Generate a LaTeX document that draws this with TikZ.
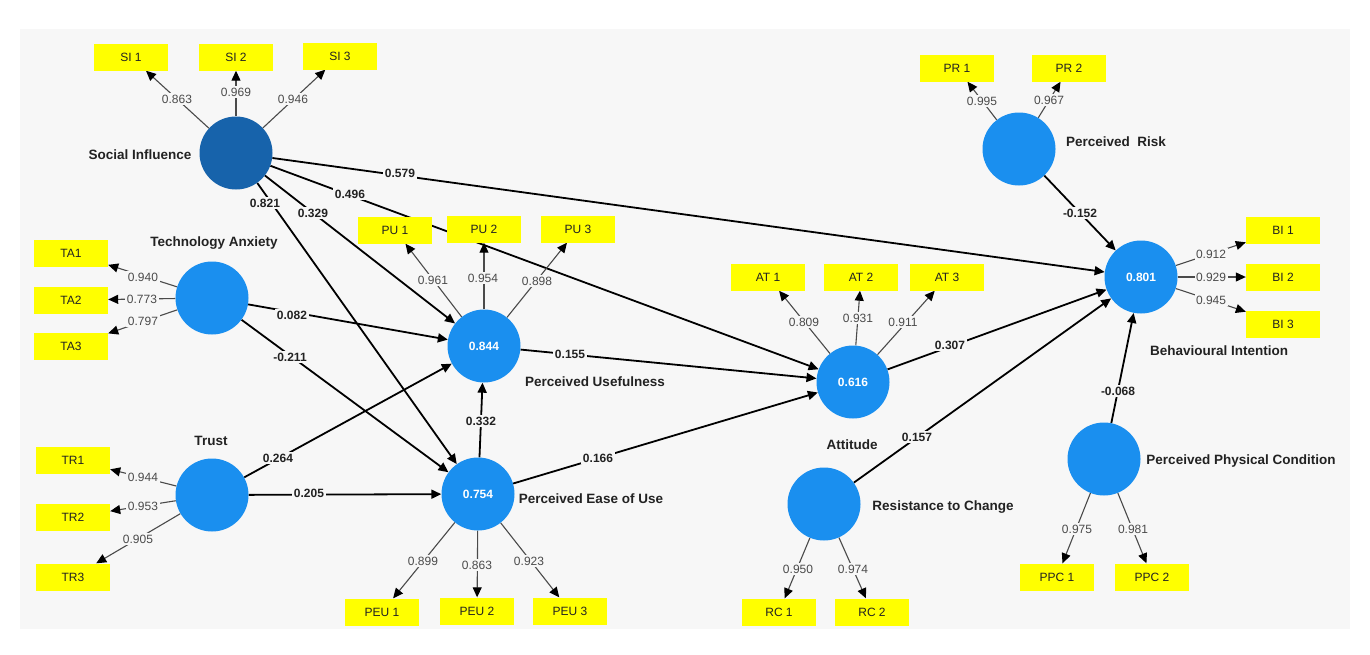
\documentclass[tikz,border=0pt]{standalone}
\usepackage{fontspec}
\setmainfont{Liberation Sans}
\usetikzlibrary{arrows.meta}
\definecolor{bg}{HTML}{F7F7F7}
\definecolor{lv}{HTML}{1A8FEF}
\definecolor{lvdark}{HTML}{1763AB}
\definecolor{ind}{HTML}{FFFF00}
\definecolor{ldcol}{HTML}{4A4A4A}
\definecolor{txt}{HTML}{222222}
\pgfdeclarelayer{bgl}
\pgfdeclarelayer{edges}
\pgfsetlayers{bgl,edges,main}
\begin{document}
\begin{tikzpicture}[x=1pt,y=-1pt,
 lvnode/.style={circle, fill=lv, minimum size=73pt, inner sep=0pt, text=white, font=\fontsize{12}{14}\selectfont\bfseries},
 indbox/.style={rectangle, fill=ind, minimum width=74pt, minimum height=27pt, inner sep=0pt, font=\fontsize{12}{14}\selectfont, text=txt},
 lvlabel/.style={font=\fontsize{13.5}{16}\selectfont\bfseries, text=txt, inner sep=0pt},
 strpath/.style={line width=1.8pt, draw=black, -{Triangle[length=10pt,width=9pt]}},
 ldpath/.style={line width=1.1pt, draw=ldcol, -{Triangle[length=10pt,width=9pt,color=black]}},
 coef/.style={fill=bg, inner sep=1.5pt, font=\fontsize{12}{14}\selectfont\bfseries, text=txt},
 ld/.style={fill=bg, inner sep=1.5pt, font=\fontsize{12}{14}\selectfont, text=ldcol},
]
\useasboundingbox (0,0) rectangle (1370,654);
\begin{pgfonlayer}{bgl}
\fill[white] (0,0) rectangle (1370,654);
\fill[bg] (20,29) rectangle (1350,629);
\end{pgfonlayer}

% latent variables
\node[lvnode, fill=lvdark] (SI) at (236,153) {};
\node[lvnode] (TA) at (212,298) {};
\node[lvnode] (TR) at (212,495) {};
\node[lvnode] (PU) at (484,346) {0.844};
\node[lvnode] (PEU) at (478,494) {0.754};
\node[lvnode] (AT) at (853,382) {0.616};
\node[lvnode] (PR) at (1019,149) {};
\node[lvnode] (BI) at (1141,277) {0.801};
\node[lvnode] (RC) at (824,504) {};
\node[lvnode] (PPC) at (1104,459) {};

% indicators
\node[indbox] (si1) at (131,57) {SI 1};
\node[indbox] (si2) at (236,57) {SI 2};
\node[indbox] (si3) at (340,56) {SI 3};
\node[indbox] (ta1) at (71,253) {TA1};
\node[indbox] (ta2) at (71,300) {TA2};
\node[indbox] (ta3) at (71,346) {TA3};
\node[indbox] (tr1) at (73,460) {TR1};
\node[indbox] (tr2) at (73,517) {TR2};
\node[indbox] (tr3) at (73,577) {TR3};
\node[indbox] (pu1) at (395,230) {PU 1};
\node[indbox] (pu2) at (484,229) {PU 2};
\node[indbox] (pu3) at (578,229) {PU 3};
\node[indbox] (peu1) at (382,612) {PEU 1};
\node[indbox] (peu2) at (477,611) {PEU 2};
\node[indbox] (peu3) at (570,611) {PEU 3};
\node[indbox] (at1) at (768,277) {AT 1};
\node[indbox] (at2) at (861,277) {AT 2};
\node[indbox] (at3) at (947,277) {AT 3};
\node[indbox] (pr1) at (957,68) {PR 1};
\node[indbox] (pr2) at (1069,68) {PR 2};
\node[indbox] (bi1) at (1283,230) {BI 1};
\node[indbox] (bi2) at (1283,277) {BI 2};
\node[indbox] (bi3) at (1283,324) {BI 3};
\node[indbox] (rc1) at (779,612) {RC 1};
\node[indbox] (rc2) at (872,612) {RC 2};
\node[indbox] (ppc1) at (1057,577) {PPC 1};
\node[indbox] (ppc2) at (1152,577) {PPC 2};

% construct names
\node[lvlabel] (lSI) at (140,155) {Social Influence};
\node[lvlabel] (lTA) at (214,243) {Technology Anxiety};
\node[lvlabel] (lTR) at (211,441) {Trust};
\node[lvlabel] (lPU) at (595,382) {Perceived Usefulness};
\node[lvlabel] (lPEU) at (591,499) {Perceived Ease of Use};
\node[lvlabel] (lAT) at (852,445) {Attitude};
\node[lvlabel] (lPR) at (1116,142) {Perceived\ \ Risk};
\node[lvlabel] (lBI) at (1219,351) {Behavioural Intention};
\node[lvlabel] (lRC) at (943,507) {Resistance to Change};
\node[lvlabel] (lPPC) at (1241,461) {Perceived Physical Condition};

\begin{pgfonlayer}{edges}
% structural paths
\draw[strpath] (SI) -- (BI);
\draw[strpath] (SI) -- (AT);
\draw[strpath] (SI) -- (PU);
\draw[strpath] (SI) -- (PEU);
\draw[strpath] (TA) -- (PU);
\draw[strpath] (TA) -- (PEU);
\draw[strpath] (TR) -- (PU);
\draw[strpath] (TR) -- (PEU);
\draw[strpath] (PEU) -- (PU);
\draw[strpath] (PU) -- (AT);
\draw[strpath] (PEU) -- (AT);
\draw[strpath] (AT) -- (BI);
\draw[strpath] (PR) -- (BI);
\draw[strpath] (RC) -- (BI);
\draw[strpath] (PPC) -- (BI);
% loadings
\draw[ldpath] (SI) -- (si1);
\draw[ldpath] (SI) -- (si2);
\draw[ldpath] (SI) -- (si3);
\draw[ldpath] (TA) -- (ta1);
\draw[ldpath] (TA) -- (ta2);
\draw[ldpath] (TA) -- (ta3);
\draw[ldpath] (TR) -- (tr1);
\draw[ldpath] (TR) -- (tr2);
\draw[ldpath] (TR) -- (tr3);
\draw[ldpath] (PU) -- (pu1);
\draw[ldpath] (PU) -- (pu2);
\draw[ldpath] (PU) -- (pu3);
\draw[ldpath] (PEU) -- (peu1);
\draw[ldpath] (PEU) -- (peu2);
\draw[ldpath] (PEU) -- (peu3);
\draw[ldpath] (AT) -- (at1);
\draw[ldpath] (AT) -- (at2);
\draw[ldpath] (AT) -- (at3);
\draw[ldpath] (PR) -- (pr1);
\draw[ldpath] (PR) -- (pr2);
\draw[ldpath] (BI) -- (bi1);
\draw[ldpath] (BI) -- (bi2);
\draw[ldpath] (BI) -- (bi3);
\draw[ldpath] (RC) -- (rc1);
\draw[ldpath] (RC) -- (rc2);
\draw[ldpath] (PPC) -- (ppc1);
\draw[ldpath] (PPC) -- (ppc2);
\end{pgfonlayer}

% path coefficients
\node[coef] (cSIBI) at (400,173) {0.579};
\node[coef] (cSIAT) at (350,194) {0.496};
\node[coef] (cSIPU) at (313,213) {0.329};
\node[coef] (cSIPEU) at (265,203) {0.821};
\node[coef] (cTAPU) at (292,315) {0.082};
\node[coef] (cTAPEU) at (290,357) {-0.211};
\node[coef] (cTRPU) at (278,458) {0.264};
\node[coef] (cTRPEU) at (309,493) {0.205};
\node[coef] (cPEUPU) at (481,421) {0.332};
\node[coef] (cPUAT) at (570,354) {0.155};
\node[coef] (cPEUAT) at (598,458) {0.166};
\node[coef] (cATBI) at (950,345) {0.307};
\node[coef] (cPRBI) at (1080,213) {-0.152};
\node[coef] (cRCBI) at (917,437) {0.157};
\node[coef] (cPPCBI) at (1118,391) {-0.068};

% loadings labels
\node[ld] (lsi1) at (177,99) {0.863};
\node[ld] (lsi2) at (236,92) {0.969};
\node[ld] (lsi3) at (293,99) {0.946};
\node[ld] (lta1) at (143,277) {0.940};
\node[ld] (lta2) at (142,299) {0.773};
\node[ld] (lta3) at (143,321) {0.797};
\node[ld] (ltr1) at (143,477) {0.944};
\node[ld] (ltr2) at (143,506) {0.953};
\node[ld] (ltr3) at (138,539) {0.905};
\node[ld] (lpu1) at (433,280) {0.961};
\node[ld] (lpu2) at (483,278) {0.954};
\node[ld] (lpu3) at (537,281) {0.898};
\node[ld] (lpeu1) at (423,561) {0.899};
\node[ld] (lpeu2) at (477,565) {0.863};
\node[ld] (lpeu3) at (529,561) {0.923};
\node[ld] (lat1) at (804,322) {0.809};
\node[ld] (lat2) at (858,318) {0.931};
\node[ld] (lat3) at (903,322) {0.911};
\node[ld] (lpr1) at (982,101) {0.995};
\node[ld] (lpr2) at (1049,100) {0.967};
\node[ld] (lbi1) at (1211,254) {0.912};
\node[ld] (lbi2) at (1211,277) {0.929};
\node[ld] (lbi3) at (1211,300) {0.945};
\node[ld] (lrc1) at (798,569) {0.950};
\node[ld] (lrc2) at (853,569) {0.974};
\node[ld] (lppc1) at (1077,529) {0.975};
\node[ld] (lppc2) at (1133,529) {0.981};
\end{tikzpicture}
\end{document}
